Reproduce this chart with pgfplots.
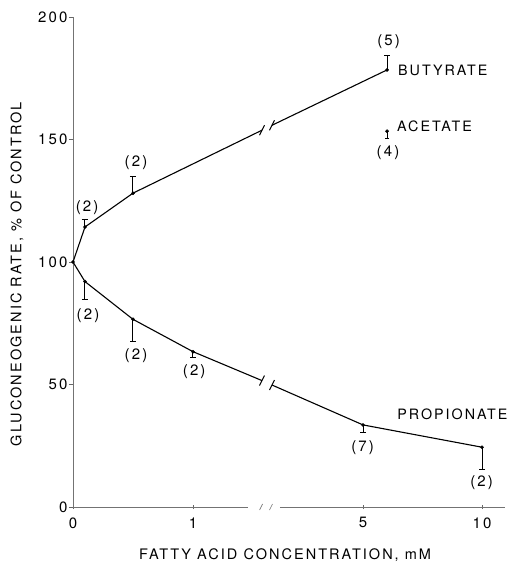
\documentclass[border=0pt]{standalone}
\usepackage{fontspec}
\setmainfont{TeX Gyre Heros}[LetterSpace=14]
\usepackage{pgfplots}
\pgfplotsset{compat=1.18}
\usepackage{pgfplotstable}

% x positions on the broken axis: 0-1 mM linear (u = c); 5 mM -> 2.417; 6 mM -> 2.617; 10 mM -> 3.409
\pgfplotstableread{
u y err
0.1 114.3 3.0
0.5 128.1 6.8
2.617 178.4 5.8
}\butyrate
\pgfplotstableread{
u y err
0.1 92.0 7.5
0.5 76.6 9.1
1 63.4 2.3
2.417 33.5 3.2
3.409 24.4 9.0
}\propionate
\pgfplotstableread{
u y err
2.617 153.4 3.0
}\acetate

\newcommand\lbl{\fontsize{15}{17}\selectfont}
\newcommand\axl{\fontsize{14.5}{17}\selectfont}
\newcommand\ser{\fontsize{14.3}{16}\selectfont}

\begin{document}
\begin{tikzpicture}
\begin{axis}[
 scale only axis, width=432pt, height=490pt,
 xmin=0, xmax=3.6, ymin=0, ymax=200,
 clip=false,
 axis lines=left,
 x axis line style={draw=none},
 y axis line style={-, black!55, line width=0.6pt},
 xtick={0,1,2.417,3.409}, xticklabels={0,1,5,10},
 ytick={0,50,100,150,200},
 tick align=center, major tick length=4pt,
 ytick style={black!60, line width=0.6pt, xshift=-2pt},
 xtick style={black!60, line width=0.6pt},
 /pgf/number format/assume math mode=true,
 ticklabel style={font=\lbl},
 xticklabel style={yshift=-5pt},
 xlabel={FATTY ACID CONCENTRATION, mM},
 ylabel={GLUCONEOGENIC RATE, \% OF CONTROL},
 every axis x label/.style={at={(axis description cs:0.491,-0.098)}, anchor=center, font=\axl},
 every axis y label/.style={at={(axis description cs:-0.1296,0.4755)}, rotate=90, anchor=center, font=\axl},
]
% x axis line with break
\draw[black!55, line width=0.6pt] (axis cs:0,0) -- (axis cs:1.458,0);
\draw[black!55, line width=0.6pt] (axis cs:1.725,0) -- (axis cs:3.6,0);
\draw[black!55, line width=0.6pt] ([shift={(-1.5pt,-3pt)}]axis cs:1.567,0) -- ([shift={(1.5pt,3pt)}]axis cs:1.567,0);
\draw[black!55, line width=0.6pt] ([shift={(-1.5pt,-3pt)}]axis cs:1.65,0) -- ([shift={(1.5pt,3pt)}]axis cs:1.65,0);

% butyrate curve
\addplot[black, line width=1.1pt] coordinates {(0,100) (0.1,114.3) (0.5,128.1) (1.575,153.8)};
\addplot[black, line width=1.1pt] coordinates {(1.658,155.8) (2.617,178.4)};
% propionate curve
\addplot[black, line width=1.1pt] coordinates {(0,100) (0.1,92.0) (0.5,76.6) (1,63.4) (1.575,51.6)};
\addplot[black, line width=1.1pt] coordinates {(1.658,49.8) (2.417,33.5) (3.409,24.4)};

% break marks on curves
\draw[black, line width=1pt] ([shift={(-2.5pt,-5pt)}]axis cs:1.575,153.8) -- ([shift={(2.5pt,5pt)}]axis cs:1.575,153.8);
\draw[black, line width=1pt] ([shift={(-2.5pt,-5pt)}]axis cs:1.658,155.8) -- ([shift={(2.5pt,5pt)}]axis cs:1.658,155.8);
\draw[black, line width=1pt] ([shift={(-2.5pt,-5pt)}]axis cs:1.575,51.6) -- ([shift={(2.5pt,5pt)}]axis cs:1.575,51.6);
\draw[black, line width=1pt] ([shift={(-2.5pt,-5pt)}]axis cs:1.658,49.8) -- ([shift={(2.5pt,5pt)}]axis cs:1.658,49.8);

% points with error bars
\addplot[black, only marks, mark=*, mark size=1.6pt,
  error bars/.cd, y dir=plus, y explicit,
  error bar style={line width=1pt},
  error mark options={rotate=90, line width=1pt, mark size=3pt}]
  table[x=u, y=y, y error=err] {\butyrate};
\addplot[black, only marks, mark=*, mark size=1.6pt,
  error bars/.cd, y dir=minus, y explicit,
  error bar style={line width=1pt},
  error mark options={rotate=90, line width=1pt, mark size=3pt}]
  table[x=u, y=y, y error=err] {\propionate};
\addplot[black, only marks, mark=*, mark size=1.6pt,
  error bars/.cd, y dir=minus, y explicit,
  error bar style={line width=1pt},
  error mark options={rotate=90, line width=1pt, mark size=2pt}]
  table[x=u, y=y, y error=err] {\acetate};
\addplot[black, only marks, mark=*, mark size=1.6pt] coordinates {(0,100)};

% n labels
\node[font=\lbl] at (axis cs:0.117,122.1) {(2)};
\node[font=\lbl] at (axis cs:0.525,140.5) {(2)};
\node[font=\lbl] at (axis cs:2.63,189.9) {(5)};
\node[font=\lbl] at (axis cs:2.625,144.5) {(4)};
\node[font=\lbl] at (axis cs:0.125,78.0) {(2)};
\node[font=\lbl] at (axis cs:0.525,61.7) {(2)};
\node[font=\lbl] at (axis cs:1.01,55.3) {(2)};
\node[font=\lbl] at (axis cs:2.414,24.4) {(7)};
\node[font=\lbl] at (axis cs:3.405,9.9) {(2)};
% series names
\node[font=\ser, anchor=west, inner sep=0pt] at (axis cs:2.708,178.4) {BUTYRATE};
\node[font=\ser, anchor=west, inner sep=0pt] at (axis cs:2.70,155.2) {ACETATE};
\node[font=\ser, anchor=west, inner sep=0pt] at (axis cs:2.702,38.0) {PROPIONATE};
\end{axis}
\pgfresetboundingbox
\path[use as bounding box] (-73pt,-59pt) rectangle (435pt,507pt);
\end{tikzpicture}
\end{document}
